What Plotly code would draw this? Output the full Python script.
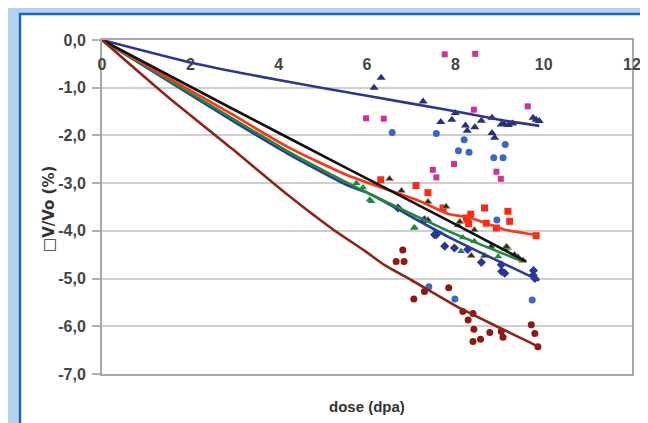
import plotly.graph_objects as go

# ---- fitted curves ----
navy_x = [0, 2, 4, 6, 7.8, 9, 9.9]
navy_y = [0, -0.47, -0.84, -1.17, -1.46, -1.67, -1.8]

black_x = [0, 2.93, 5.57, 7.83, 9.6]
black_y = [0, -1.43, -2.7, -3.78, -4.64]

green_x = [0, 2.93, 4.2, 5.57, 7.83, 9.5]
green_y = [0, -1.63, -2.33, -3.0, -4.0, -4.63]

blue_x = [0, 2.93, 4.2, 5.57, 6.0, 7.83, 9.9]
blue_y = [0, -1.68, -2.38, -3.05, -3.2, -4.12, -5.04]

red_x = [0, 2.93, 4.2, 5.57, 7.2, 7.83, 8.35, 9.1, 9.87]
red_y = [0, -1.55, -2.24, -2.84, -3.38, -3.64, -3.73, -3.97, -4.09]

brown_x = [0, 1.5, 2.93, 4.21, 5.2, 5.95, 6.4, 7.0, 8.06, 9.0, 9.87]
brown_y = [0, -1.2, -2.27, -3.25, -3.95, -4.42, -4.72, -5.03, -5.6, -6.03, -6.42]

# ---- measured points ----
mag_x = [7.76, 8.45, 8.42, 9.64, 5.98, 6.38, 7.49, 7.57, 7.97, 8.93, 9.03]
mag_y = [-0.3, -0.29, -1.46, -1.39, -1.64, -1.65, -2.72, -2.88, -2.6, -2.76, -2.91]

lblue_x = [6.57, 7.57, 8.2, 9.13, 8.07, 8.31, 8.87, 9.08, 8.94, 7.4, 7.99, 9.74]
lblue_y = [-1.94, -1.96, -2.09, -2.19, -2.32, -2.35, -2.47, -2.47, -3.77, -5.17, -5.43, -5.45]

tri_navy_x = [6.32, 6.16, 7.27, 7.67, 7.92, 8.0, 8.23, 8.27, 8.44, 8.59, 8.83, 8.83, 8.89,
              9.04, 9.1, 9.2, 9.3, 9.76, 9.83, 9.9]
tri_navy_y = [-0.79, -1.0, -1.29, -1.72, -1.67, -1.53, -1.79, -1.9, -1.83, -1.69, -1.63, -1.95, -2.05,
              -1.77, -1.76, -1.78, -1.75, -1.63, -1.67, -1.7]

tri_black_x = [6.51, 6.78, 7.38, 7.79, 7.38, 8.06, 8.1, 8.43, 8.36, 8.66, 8.81, 9.12, 9.16, 9.34, 9.42, 9.53]
tri_black_y = [-2.91, -3.16, -3.39, -3.49, -3.77, -3.88, -3.81, -3.98, -4.52, -4.52, -4.33, -4.37, -4.33, -4.5, -4.55, -4.62]

tri_green_x = [5.76, 5.91, 6.06, 6.1, 7.06, 7.08, 8.13, 8.17, 8.43, 8.97, 9.19]
tri_green_y = [-3.0, -3.09, -3.35, -3.38, -3.94, -3.93, -4.43, -4.14, -4.22, -4.54, -4.36]

dblue_x = [6.7, 7.3, 7.53, 7.57, 7.76, 7.98, 8.28, 8.59, 9.04, 9.12, 9.05, 9.77, 9.8, 9.76]
dblue_y = [-3.52, -3.77, -4.08, -4.08, -4.32, -4.36, -4.39, -4.66, -4.71, -4.89, -4.85, -4.83, -5.0, -4.93]

brown_px = [6.66, 6.84, 6.81, 7.06, 7.3, 7.85, 8.17, 8.29, 8.4, 8.42, 8.4, 8.57, 8.78, 9.04, 9.08, 9.72, 9.8, 9.87]
brown_py = [-4.64, -4.64, -4.4, -5.43, -5.27, -5.19, -5.69, -5.87, -5.73, -6.06, -6.32, -6.27, -6.13, -6.11, -6.23, -5.97, -6.15, -6.43]

red_px = [6.31, 7.11, 7.38, 7.72, 8.25, 8.28, 8.35, 8.3, 8.66, 8.7, 8.93, 9.19, 9.23, 9.83]
red_py = [-2.93, -3.05, -3.2, -3.52, -3.73, -3.77, -3.65, -3.85, -3.52, -3.84, -3.94, -3.59, -3.8, -4.1]

y_ticks = [0, -1, -2, -3, -4, -5, -6, -7]
y_tick_text = ["0,0", "-1,0", "-2,0", "-3,0", "-4,0", "-5,0", "-6,0", "-7,0"]
x_ticks = [0, 2, 4, 6, 8, 10, 12]

fig = go.Figure()

def pts(x, y, color, symbol, size=6, lc=None):
    fig.add_trace(go.Scatter(x=x, y=y, mode="markers",
                             marker=dict(color=color, symbol=symbol, size=size,
                                         line=dict(width=0.8 if lc else 0, color=lc or color)),
                             showlegend=False, hoverinfo="skip"))

pts(mag_x, mag_y, "#cc3399", "square", 6)
pts(lblue_x, lblue_y, "#3a66cc", "circle", 7)
pts(tri_navy_x, tri_navy_y, "#27307e", "triangle-up", 8)
pts(dblue_x, dblue_y, "#2b3596", "diamond", 7)
pts(tri_green_x, tri_green_y, "#1e8a3c", "triangle-up", 7)
pts(red_px, red_py, "#ff2a12", "square", 7)
pts(tri_black_x, tri_black_y, "#2a2a20", "triangle-up", 7, "#9a9a70")
pts(brown_px, brown_py, "#8b1a12", "circle", 7)

def line(x, y, color, w=2.6):
    fig.add_trace(go.Scatter(x=x, y=y, mode="lines", line=dict(color=color, width=w, shape="spline", smoothing=0.6),
                             showlegend=False, hoverinfo="skip"))

line(navy_x, navy_y, "#2c3590")
line(blue_x, blue_y, "#2b3a9e")
line(green_x, green_y, "#1e8a3c")
line(red_x, red_y, "#ff3414")
line(black_x, black_y, "#111111")
line(brown_x, brown_y, "#8e2414")

W, H = 648, 423
L, R, T, B = 94, 24, 32, 57
pw, ph = W - L - R, H - T - B

def px2x(p):
    return (p - L) / pw

def px2y(p):
    return (H - B - p) / ph

fig.add_shape(type="rect", xref="paper", yref="paper",
              x0=px2x(12), x1=px2x(645), y0=px2y(421), y1=px2y(6),
              fillcolor="white", line=dict(color="#1f66b8", width=2.5), layer="below")

fig.add_annotation(text="dose (dpa)", xref="paper", yref="paper",
                   x=0.5, y=px2y(398), showarrow=False, xanchor="center", yanchor="middle",
                   font=dict(family="Liberation Sans, Arial", size=15, color="#333333", weight="bold"))
fig.add_annotation(text="□V/Vo (%)", xref="paper", yref="paper",
                   x=px2x(41), y=px2y(201), showarrow=False, textangle=-90,
                   xanchor="center", yanchor="middle",
                   font=dict(family="DejaVu Sans", size=15, color="#333333", weight="bold"))

tick_font = dict(family="Liberation Sans, Arial", size=16, color="#444444", weight="bold")

fig.update_layout(
    width=W, height=H,
    margin=dict(l=L, r=R, t=T, b=B, pad=0),
    paper_bgcolor="#b5d3ee",
    plot_bgcolor="rgba(0,0,0,0)",
    font=dict(family="Liberation Sans, Arial", size=15, color="#444444"),
    xaxis=dict(range=[0, 12], tickvals=x_ticks, side="top",
               ticklabelposition="inside", ticklabeloverflow="allow",
               ticklabelstandoff=19, tickfont=tick_font,
               showgrid=False, zeroline=False,
               showline=True, mirror=True, linecolor="#a8a8a8", linewidth=2,
               ticks=""),
    yaxis=dict(range=[-7, 0], tickvals=y_ticks, ticktext=y_tick_text, tickfont=tick_font,
               ticklabelstandoff=3,
               showgrid=True, gridcolor="#cfcfcf", gridwidth=2, zeroline=False,
               showline=True, mirror=True, linecolor="#a8a8a8", linewidth=2,
               ticks="outside", ticklen=8, tickcolor="#b0b0b0", tickwidth=1.5),
)

fig.write_html("out.html")
